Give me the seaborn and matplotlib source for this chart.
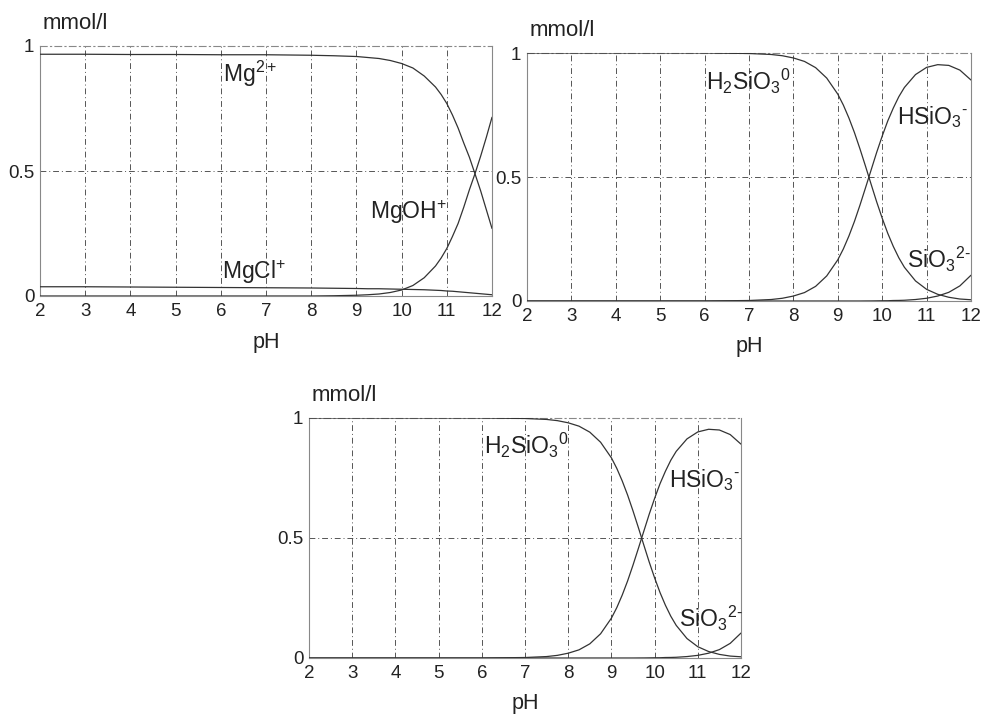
import matplotlib
matplotlib.use("Agg")
import matplotlib.pyplot as plt
import seaborn as sns

# ---- data ----
ph_mg = [2, 3, 4, 5, 6, 7, 8, 8.5, 9, 9.25, 9.5, 9.75, 10, 10.25, 10.5,
         10.75, 10.875, 11, 11.125, 11.25, 11.375, 11.5, 11.625, 11.75, 11.875, 12]
mg2 = [0.967, 0.967, 0.966, 0.966, 0.965, 0.965, 0.963, 0.961, 0.958, 0.954,
       0.950, 0.942, 0.930, 0.912, 0.880, 0.836, 0.806, 0.770, 0.724, 0.672,
       0.612, 0.555, 0.488, 0.420, 0.345, 0.270]
mgoh = [0, 0, 0, 0, 0, 0, 0, 0.001, 0.003, 0.005, 0.008, 0.014, 0.024, 0.042,
        0.073, 0.120, 0.152, 0.190, 0.238, 0.290, 0.355, 0.425, 0.490, 0.560,
        0.635, 0.715]
mgcl = [0.037, 0.037, 0.036, 0.035, 0.034, 0.033, 0.032, 0.031, 0.030, 0.029,
        0.029, 0.028, 0.027, 0.026, 0.025, 0.023, 0.022, 0.020, 0.019, 0.017,
        0.015, 0.013, 0.011, 0.009, 0.007, 0.005]

ph_si = [2, 3, 4, 5, 6, 7, 7.25, 7.5, 7.75, 8, 8.25, 8.5, 8.75, 9, 9.125,
         9.25, 9.375, 9.5, 9.625, 9.75, 9.875, 10, 10.125, 10.25, 10.375, 10.5,
         10.75, 11, 11.25, 11.5, 11.75, 12]
h2sio3 = [1.0, 1.0, 1.0, 1.0, 1.0, 0.998, 0.996, 0.994, 0.989, 0.980, 0.966,
          0.941, 0.899, 0.834, 0.790, 0.738, 0.679, 0.613, 0.543, 0.471, 0.400,
          0.334, 0.273, 0.220, 0.174, 0.136, 0.081, 0.047, 0.027, 0.015, 0.008,
          0.005]
hsio3 = [0, 0, 0, 0, 0, 0.002, 0.004, 0.006, 0.011, 0.020, 0.034, 0.059,
         0.101, 0.166, 0.210, 0.262, 0.321, 0.387, 0.457, 0.528, 0.599, 0.665,
         0.726, 0.778, 0.824, 0.861, 0.913, 0.942, 0.953, 0.950, 0.931, 0.891]
sio3 = [0, 0, 0, 0, 0, 0, 0, 0, 0, 0, 0, 0, 0, 0, 0, 0, 0, 0, 0.0002, 0.0003,
        0.0006, 0.001, 0.0011, 0.002, 0.0023, 0.003, 0.006, 0.011, 0.020,
        0.035, 0.061, 0.104]

x_ticks = [2, 3, 4, 5, 6, 7, 8, 9, 10, 11, 12]
y_ticks = [0, 0.5, 1]
y_ticklabels = ["0", "0.5", "1"]

mg_labels = [r"Mg$^{2+}$", r"MgOH$^{+}$", r"MgCl$^{+}$"]
si_labels = [r"H$_2$SiO$_3$$^0$", r"HSiO$_3$$^{\text{-}}$", r"SiO$_3$$^{2\text{-}}$"]

# ---- style ----
sns.set_style("white")
plt.rcParams["font.family"] = ["Liberation Sans", "DejaVu Sans"]
plt.rcParams["mathtext.fontset"] = "custom"
plt.rcParams["mathtext.rm"] = "Liberation Sans"
plt.rcParams["mathtext.it"] = "Liberation Sans:italic"
plt.rcParams["mathtext.bf"] = "Liberation Sans:bold"
plt.rcParams["mathtext.default"] = "regular"

LINE = "#333333"
GRID = "#555555"
TXT = "#222222"

fig = plt.figure(figsize=(9.84, 7.16), dpi=100)
fig.patch.set_facecolor("white")

ax1 = fig.add_axes([40 / 984, 1 - 296 / 716, 452 / 984, 250 / 716])
ax2 = fig.add_axes([527 / 984, 1 - 301 / 716, 444 / 984, 248 / 716])
ax3 = fig.add_axes([309 / 984, 1 - 658 / 716, 432 / 984, 240 / 716])


def style_axes(ax, labelpad):
    ax.set_xlim(2, 12)
    ax.set_ylim(0, 1)
    ax.set_xticks(x_ticks)
    ax.set_yticks(y_ticks)
    ax.set_yticklabels(y_ticklabels)
    ax.tick_params(axis="both", length=0, labelsize=13.5, colors=TXT)
    ax.tick_params(axis="x", pad=5)
    ax.tick_params(axis="y", pad=4)
    for xv in x_ticks[1:-1]:
        ax.axvline(xv, color=GRID, lw=0.7, ls=(0, (6, 3, 1, 3)), zorder=1)
    ax.axhline(0.5, color=GRID, lw=0.7, ls=(0, (6, 3, 1, 3)), zorder=1)
    for s in ax.spines.values():
        s.set_color("#888888")
        s.set_linewidth(0.8)
    ax.spines["top"].set_linestyle((0, (6, 3, 1, 3)))
    ax.set_xlabel("pH", fontsize=15.5, labelpad=labelpad, color=TXT)
    ax.set_ylabel("")
    ax.annotate("mmol/l", xy=(0, 1), xycoords="axes fraction",
                xytext=(2, 12), textcoords="offset points",
                ha="left", va="baseline", fontsize=16, color=TXT)


def draw_series(ax, x, series):
    for ys in series:
        sns.lineplot(x=x, y=ys, ax=ax, color=LINE, lw=0.9, legend=False,
                     estimator=None, zorder=3)


draw_series(ax1, ph_mg, [mg2, mgoh, mgcl])
style_axes(ax1, 9)
ax1.text(6.05, 0.89, mg_labels[0], fontsize=16.5, va="center", ha="left", color=TXT)
ax1.text(9.3, 0.335, mg_labels[1], fontsize=16.5, va="center", ha="left", color=TXT)
ax1.text(6.03, 0.096, mg_labels[2], fontsize=16.5, va="center", ha="left", color=TXT)

for ax, pad in ((ax2, 8), (ax3, 8)):
    draw_series(ax, ph_si, [h2sio3, hsio3, sio3])
    style_axes(ax, pad)
    ax.text(6.04, 0.884, si_labels[0], fontsize=16.5, va="center", ha="left", color=TXT)
    ax.text(10.34, 0.743, si_labels[1], fontsize=16.5, va="center", ha="left", color=TXT)
    ax.text(10.56, 0.166, si_labels[2], fontsize=16.5, va="center", ha="left", color=TXT)

fig.savefig("out.png", dpi=100, facecolor="white")
